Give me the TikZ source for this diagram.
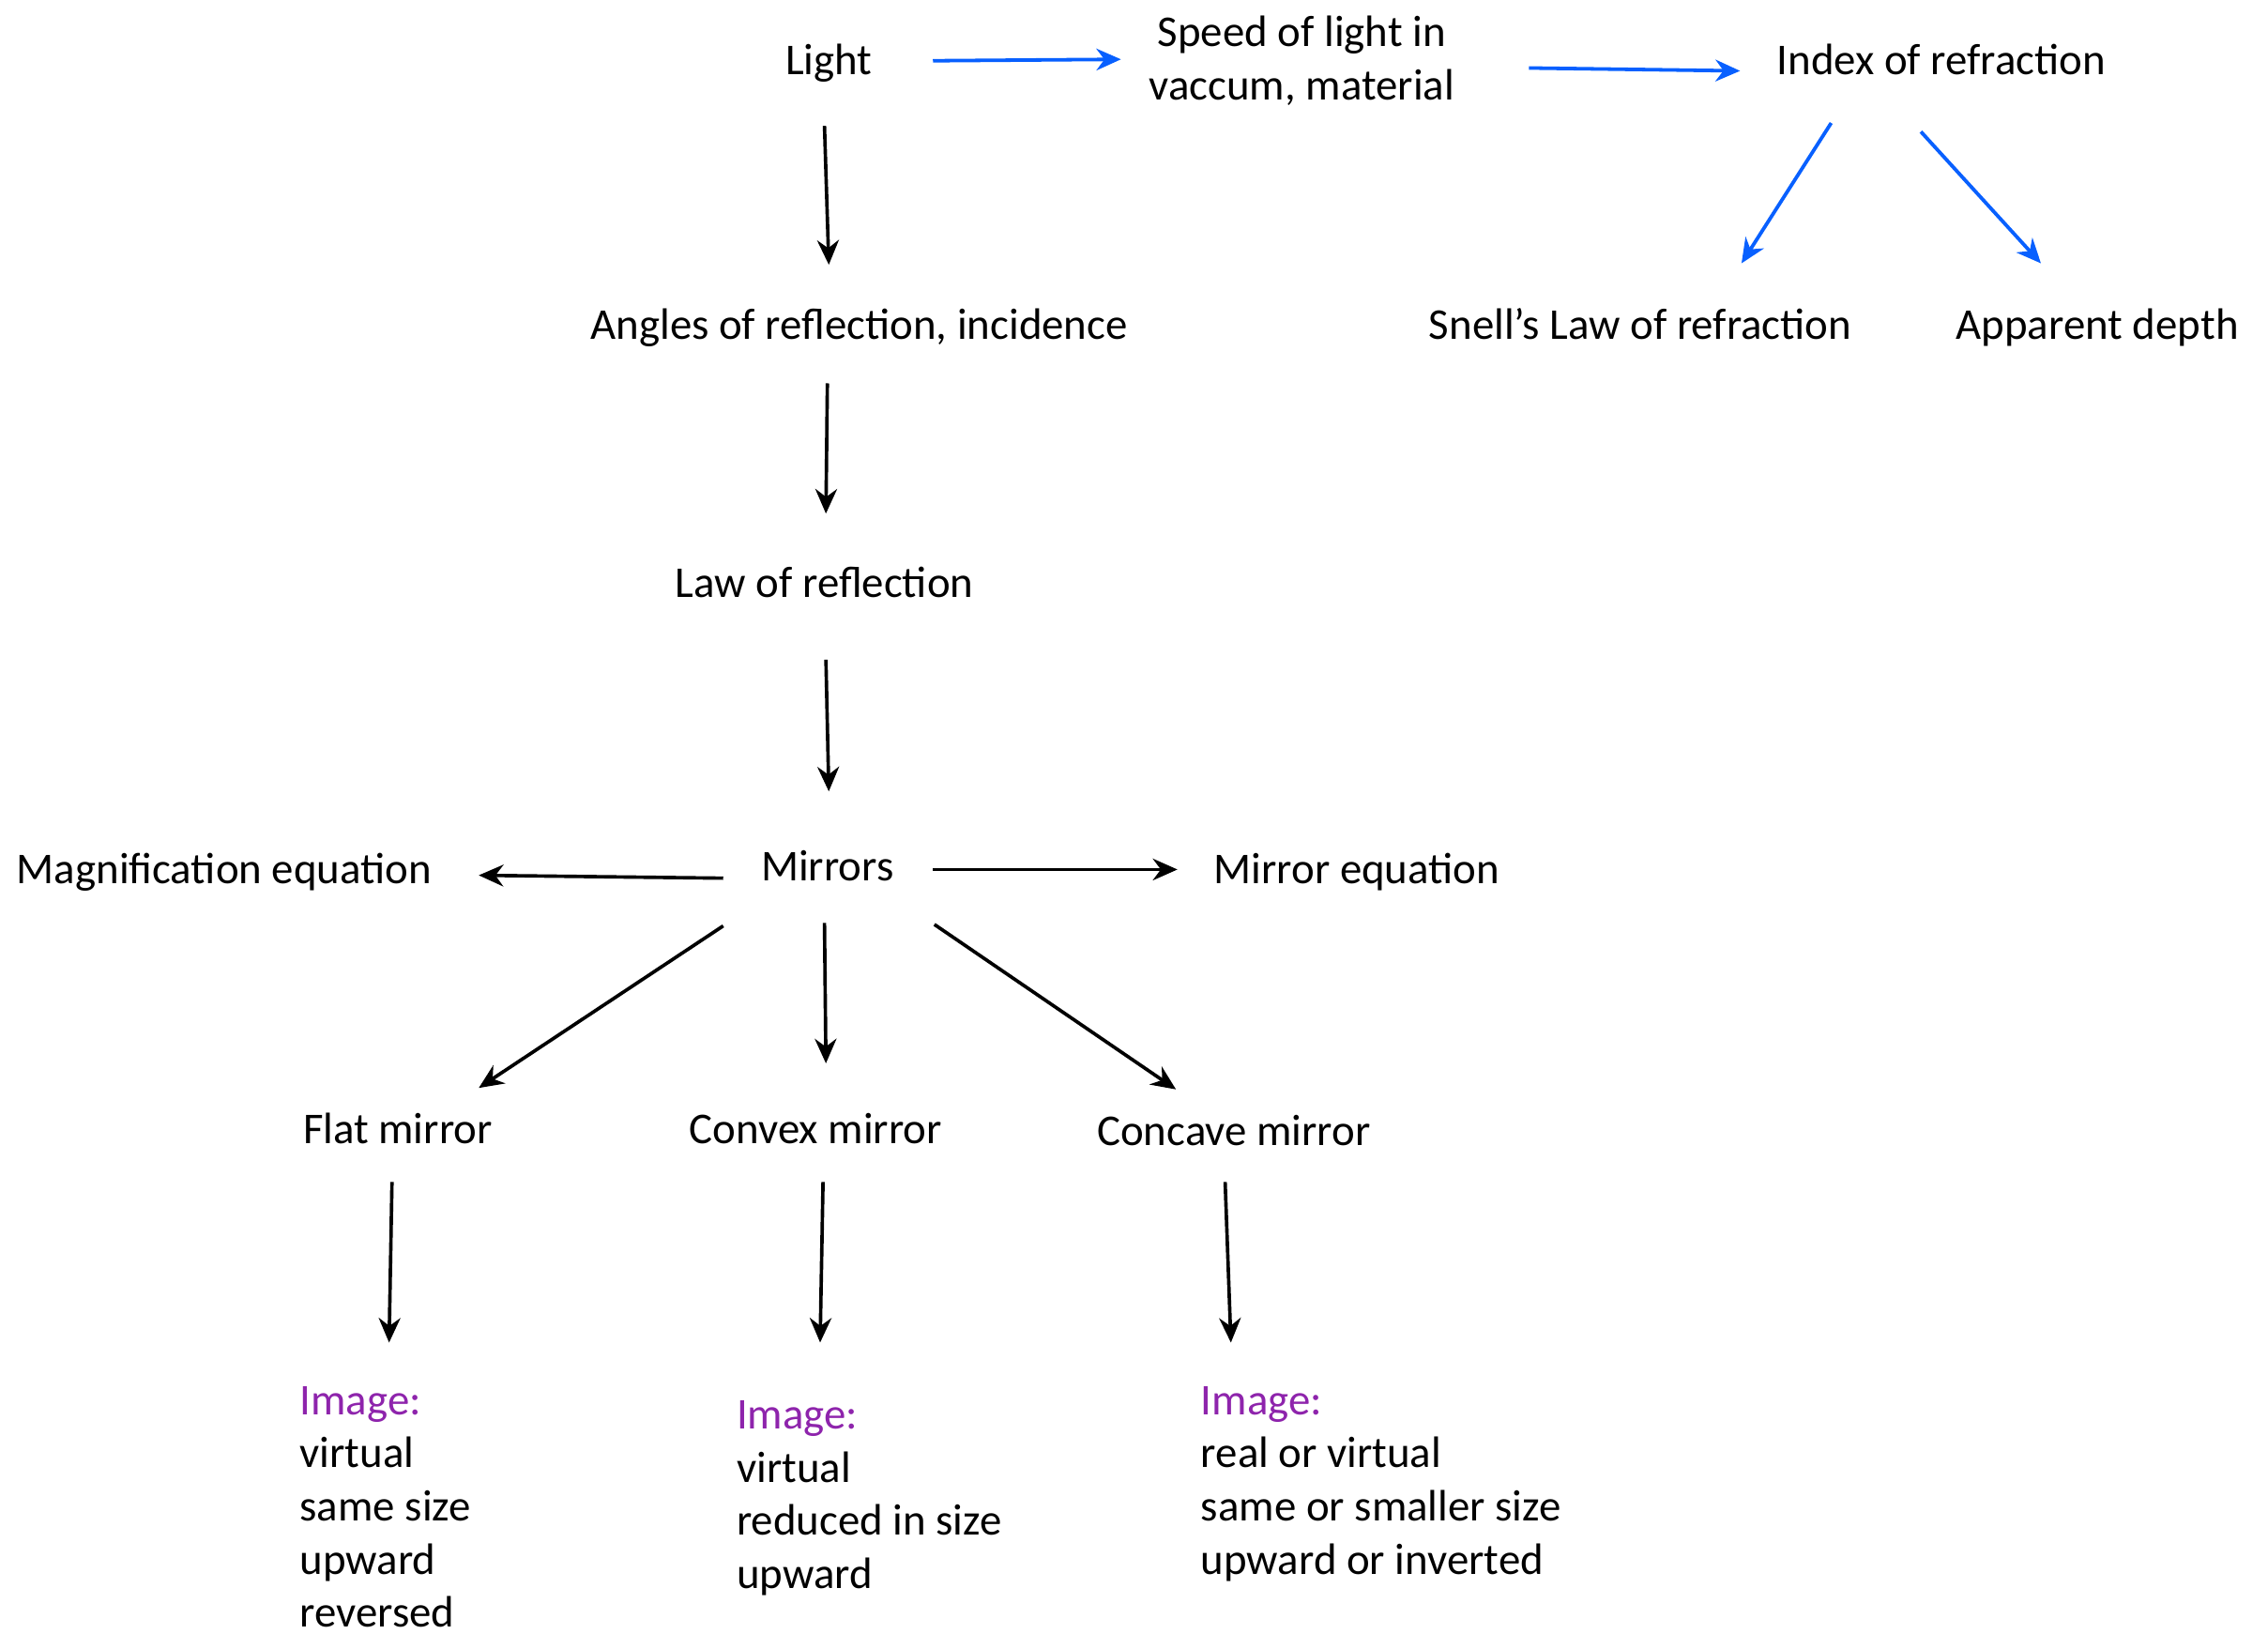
\documentclass[tikz,border=0pt]{standalone}
\usepackage{fontspec}
\setmainfont{Carlito}
\usetikzlibrary{arrows.meta, positioning}

\definecolor{arrowblue}{RGB}{8,96,255}
\definecolor{imgpurple}{RGB}{142,36,172}

\begin{document}
\begin{tikzpicture}[
        x=0.02cm, y=-0.02cm, % one unit = one pixel of the layout
        lbl/.style={inner sep=0pt, font=\fontsize{17.3}{20.8}\selectfont, text height=1em, text depth=0em},
        imgblock/.style={inner sep=0pt, anchor=north west, align=left, font=\fontsize{17.3}{20.9}\selectfont},
        blk/.style={-{Stealth[length=0.34cm, width=0.3cm]}, line width=1.35pt, black},
        blu/.style={-{Stealth[length=0.34cm, width=0.3cm]}, line width=1.4pt, arrowblue}
      ]
      \useasboundingbox (0,0) rectangle (1568,1129);

      % Nodes
      \node[lbl] (light) at (573,43) {Light};
      \node[lbl, align=center, text height=, text depth=] (speed) at (900,42) {Speed of light in\\vaccum, material};
      \node[lbl] (index) at (1342,43) {Index of refraction};
      \node[lbl] (angles) at (594,226) {Angles of reflection, incidence};
      \node[lbl] (snell) at (1134,226) {Snell's Law of refraction};
      \node[lbl] (apparent) at (1450,226) {Apparent depth};
      \node[lbl] (law) at (570,404) {Law of reflection};
      \node[lbl] (mirrors) at (572,600) {Mirrors};
      \node[lbl] (magnif) at (155,602) {Magnification equation};
      \node[lbl] (mirroreq) at (938,602) {Mirror equation};
      \node[lbl] (flat) at (275,782) {Flat mirror};
      \node[lbl] (convex) at (564,782) {Convex mirror};
      \node[lbl] (concave) at (853,783) {Concave mirror};

      \node[imgblock] (imgflat) at (207,958) {\textcolor{imgpurple}{Image:}\\virtual\\same size\\upward\\reversed};
      \node[imgblock] (imgconvex) at (509,968) {\textcolor{imgpurple}{Image:}\\virtual\\reduced in size\\upward};
      \node[imgblock] (imgconcave) at (830,958) {\textcolor{imgpurple}{Image:}\\real or virtual\\same or smaller size\\upward or inverted};

      % Arrows (refraction branch)
      \draw[blu] ([shift={(72,-1)}]light.center) -- ([shift={(-125,-1)}]speed.center);
      \draw[blu] ([shift={(157,5)}]speed.center) -- ([shift={(-139,6)}]index.center);
      \draw[blu] ([shift={(-76,42)}]index.center) -- ([shift={(70,-44)}]snell.center);
      \draw[blu] ([shift={(-14,48)}]index.center) -- ([shift={(-39,-44)}]apparent.center);

      % Arrows (reflection branch)
      \draw[blk] ([shift={(-3,44)}]light.center) -- ([shift={(-21,-43)}]angles.center);
      \draw[blk] ([shift={(-22,39)}]angles.center) -- ([shift={(1,-49)}]law.center);
      \draw[blk] ([shift={(1,52)}]law.center) -- ([shift={(1,-53)}]mirrors.center);
      \draw[blk] ([shift={(-72,7)}]mirrors.center) -- ([shift={(176,3)}]magnif.center);
      \draw[blk] ([shift={(73,1)}]mirrors.center) -- ([shift={(-124,-1)}]mirroreq.center);
      \draw[blk] ([shift={(-72,40)}]mirrors.center) -- ([shift={(56,-30)}]flat.center);
      \draw[blk] ([shift={(-2,38)}]mirrors.center) -- ([shift={(7,-47)}]convex.center);
      \draw[blk] ([shift={(74,39)}]mirrors.center) -- ([shift={(-40,-30)}]concave.center);

      % Arrows to the image notes
      \draw[blk] ([shift={(-4,35)}]flat.center) -- ([shift={(62,-30)}]imgflat.north west);
      \draw[blk] ([shift={(5,35)}]convex.center) -- ([shift={(58,-40)}]imgconvex.north west);
      \draw[blk] ([shift={(-6,34)}]concave.center) -- ([shift={(21,-30)}]imgconcave.north west);

    \end{tikzpicture}
\end{document}
